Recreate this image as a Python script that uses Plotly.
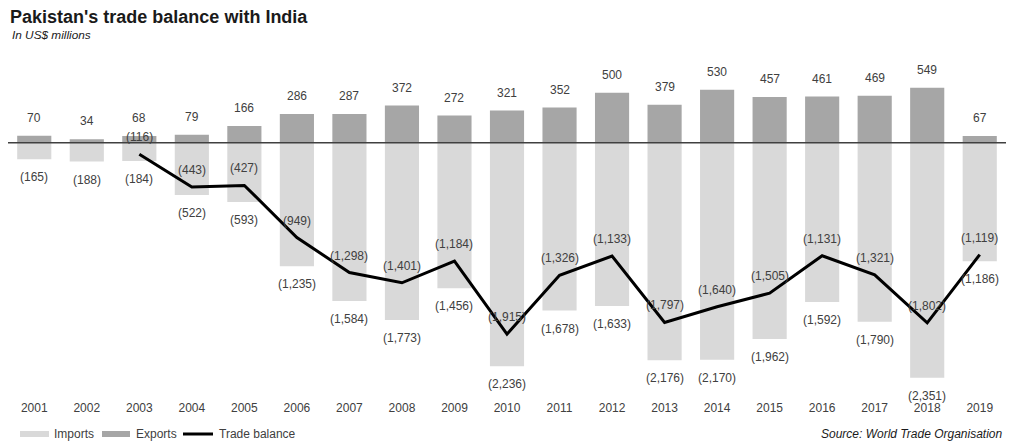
import plotly.graph_objects as go

# data (US$ millions)
years = [str(y) for y in range(2001, 2020)]
exports = [70, 34, 68, 79, 166, 286, 287, 372, 272, 321, 352, 500, 379, 530, 457, 461, 469, 549, 67]
imports = [165, 188, 184, 522, 593, 1235, 1584, 1773, 1456, 2236, 1678, 1633, 2176, 2170, 1962, 1592, 1790, 2351, 1186]
bal_years = [str(y) for y in range(2003, 2020)]
balance = [-116, -443, -427, -949, -1298, -1401, -1184, -1915, -1326, -1133, -1797, -1640, -1505, -1131, -1321, -1802, -1119]

FONT = "Liberation Sans"
TXT = "#404040"
DARK = "#1a1a1a"
IMP_C = "#d9d9d9"
EXP_C = "#a6a6a6"

# the page body adds an 8px margin, so the figure is 8px smaller each way
OFF = 8
W, H = 1024 - OFF, 448 - OFF
L, R, T, B = 0, 18, 47, 49
pw = W - L - R

def px(x):  # window x -> paper x
    return (x - OFF - L) / pw

fig = go.Figure()
fig.add_trace(go.Bar(x=years, y=[-v for v in imports], name="Imports", marker_color=IMP_C,
                     marker_line_width=0))
fig.add_trace(go.Bar(x=years, y=exports, name="Exports", marker_color=EXP_C,
                     marker_line_width=0))
fig.add_trace(go.Scatter(x=bal_years, y=balance, name="Trade balance", mode="lines",
                         line=dict(color="black", width=3)))

# value labels (annotations on a category axis use the category index)
ann = []
for i, v in enumerate(exports):
    ann.append(dict(x=i, y=v, text=str(v), yshift=18, showarrow=False,
                    font=dict(size=12, color=TXT)))
for i, v in enumerate(imports):
    ann.append(dict(x=i, y=-v, text="({:,})".format(v), yshift=-18, showarrow=False,
                    font=dict(size=12, color=TXT)))
for yr, v in zip(bal_years, balance):
    ann.append(dict(x=years.index(yr), y=v, text="({:,})".format(-v), yshift=17, showarrow=False,
                    font=dict(size=12, color=TXT)))

# subtitle, source
ann.append(dict(xref="paper", yref="paper", x=px(10), y=1, xanchor="left", yanchor="middle",
                yshift=(T + OFF) - 35, showarrow=False, text="<i>In US$ millions</i>",
                font=dict(size=11.8, color=DARK)))
ann.append(dict(xref="paper", yref="paper", x=px(1005), y=0, xanchor="right", yanchor="middle",
                yshift=-(434 - (H - B + OFF)), showarrow=False,
                text="<i>Source: World Trade Organisation</i>",
                font=dict(size=12, color=DARK)))

# zero line drawn over the bars
shapes = [dict(type="line", xref="paper", yref="y", x0=0, x1=1, y0=0, y1=0,
               line=dict(color="#404040", width=1.5), layer="above")]

# hand-made legend with wide swatches
ly = 434 - (H - B + OFF)
legend_items = [("Imports", IMP_C, 20, 49, 52), ("Exports", EXP_C, 102, 130, 134),
                ("Trade balance", "black", 183, 213, 217)]
for name, col, x0, x1, tx in legend_items:
    if name == "Trade balance":
        shapes.append(dict(type="line", xref="paper", yref="paper", x0=px(x0), x1=px(x1),
                           ysizemode="pixel", yanchor=0, y0=-ly, y1=-ly,
                           line=dict(color=col, width=3)))
    else:
        shapes.append(dict(type="rect", xref="paper", yref="paper", x0=px(x0), x1=px(x1),
                           ysizemode="pixel", yanchor=0, y0=-ly + 3, y1=-ly - 3,
                           fillcolor=col, line_width=0))
    ann.append(dict(xref="paper", yref="paper", x=px(tx), y=0, xanchor="left",
                    yanchor="middle", yshift=-ly, showarrow=False, text=name,
                    font=dict(size=12, color=TXT)))

fig.update_layout(
    width=W, height=H,
    margin=dict(l=L, r=R, t=T, b=B),
    paper_bgcolor="white", plot_bgcolor="white",
    title=dict(text="<b>Pakistan's trade balance with India</b>", xref="container", yref="container",
               x=(10 - OFF) / W, y=1 - (17 - OFF) / H, xanchor="left", yanchor="middle",
               font=dict(size=18, color=DARK)),
    barmode="relative", bargap=0.35,
    showlegend=False,
    font=dict(family=FONT, size=12, color=TXT),
    xaxis=dict(type="category", range=[-0.5, 18.5], showgrid=False, showline=False, ticks="",
               tickfont=dict(size=12, color=TXT)),
    yaxis=dict(range=[-2563, 877], visible=False),
    annotations=ann, shapes=shapes,
)
fig.write_html("out.html")
